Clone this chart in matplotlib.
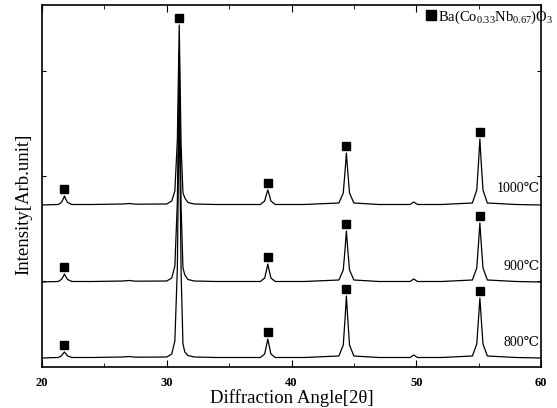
import numpy as np
import matplotlib
matplotlib.use("Agg")
import matplotlib.pyplot as plt

# --- data (intensity in arbitrary units, relative to each baseline) ---
angles = [20.0, 21.3, 21.55, 21.7, 21.8, 21.9, 22.05, 22.4, 24.0, 26.5, 27.0, 27.5,
          30.0, 30.4, 30.65, 30.85, 31.0, 31.15, 31.3, 31.45, 31.7, 32.2, 34.0,
          37.5, 37.85, 38.0, 38.1, 38.2, 38.35, 38.7, 41.0,
          43.8, 44.15, 44.3, 44.4, 44.5, 44.65, 45.0, 47.0,
          49.5, 49.8, 50.1, 52.0,
          54.5, 54.85, 55.0, 55.1, 55.2, 55.35, 55.7, 58.0, 60.0]

int_1000 = [0, 0.5, 2.5, 6, 9, 6, 2.5, 0.5, 0.5, 1, 1.5, 0.8,
            1, 4, 14, 65, 180, 60, 12, 7, 2.5, 1, 0.5,
            0.5, 4, 11, 15, 11, 4, 0.5, 0.5,
            2, 12, 35, 52, 35, 12, 2, 0.5,
            0.5, 3, 0.5, 0.5,
            2, 15, 44, 66, 44, 15, 2, 0.5, 0]

int_900 = [0, 0.5, 2.5, 5.5, 8, 5.5, 2.5, 0.5, 0.5, 1, 1.5, 0.8,
           1, 4, 16, 80, 230, 75, 14, 7, 2.5, 1, 0.5,
           0.5, 4, 12, 18, 12, 4, 0.5, 0.5,
           2, 12, 34, 51, 34, 12, 2, 0.5,
           0.5, 3, 0.5, 0.5,
           2, 14, 40, 59, 40, 14, 2, 0.5, 0]

int_800 = [0, 0.5, 2, 4.5, 6, 4.5, 2, 0.5, 0.5, 1, 1.5, 0.8,
           1, 4, 17, 90, 260, 85, 14, 6, 2.5, 1, 0.5,
           0.5, 4, 13, 19, 13, 4, 0.5, 0.5,
           2, 13, 41, 62, 41, 13, 2, 0.5,
           0.5, 3, 0.5, 0.5,
           2, 14, 41, 60, 41, 14, 2, 0.5, 0]

temps = ["1000℃", "900℃", "800℃"]
offsets = [162, 85, 9]
series = [int_1000, int_900, int_800]

# peaks marked with a square in each pattern
marked_1000 = [21.8, 31.0, 38.1, 44.4, 55.1]
marked_900 = [21.8, 38.1, 44.4, 55.1]
marked_800 = [21.8, 38.1, 44.4, 55.1]
marked = [marked_1000, marked_900, marked_800]

plt.rcParams['font.family'] = ['Liberation Serif', 'DejaVu Serif']
plt.rcParams['mathtext.fontset'] = 'custom'
plt.rcParams['mathtext.rm'] = 'Liberation Serif'
plt.rcParams['mathtext.default'] = 'regular'

fig = plt.figure(figsize=(5.57, 4.08), dpi=100)
ax = fig.add_axes([42 / 557, 41 / 408, 499 / 557, 362 / 408])

x = np.array(angles)
for k, (vals, off, temp, pk) in enumerate(zip(series, offsets, temps, marked)):
    y = np.array(vals) + off
    ax.plot(x, y, color='black', lw=0.9)
    pk_y = [np.interp(p, x, y) + 7 for p in pk]
    ax.plot(pk, pk_y, ls='none', marker='s', ms=6, color='black',
            label=r'Ba(Co$_{0.33}$Nb$_{0.67}$)O$_3$' if k == 0 else None)
    ax.text(59.9, off + 16, temp, ha='right', va='center', fontsize=10)

ax.set_xlim(20, 60)
ax.set_ylim(0, 362)
ax.set_xticks([20, 30, 40, 50, 60])
ax.set_xticks([25, 35, 45, 55], minor=True)
ax.set_yticks([86, 191, 296])
ax.set_yticklabels([])
ax.tick_params(axis='both', which='both', direction='in', right=True, top=True)
ax.tick_params(axis='x', which='major', length=5, labelsize=9, pad=7)
ax.tick_params(axis='x', which='minor', length=3)
ax.tick_params(axis='y', length=3)
for lab in ax.get_xticklabels():
    lab.set_fontweight('bold')
for sp in ax.spines.values():
    sp.set_linewidth(1.2)

ax.set_xlabel('Diffraction Angle[2θ]', fontsize=13.5, labelpad=0)
ax.set_ylabel('Intensity[Arb.unit]', fontsize=13.5)
ax.yaxis.set_label_coords(-0.02, 0.45)

ax.legend(loc='upper right', bbox_to_anchor=(1.042, 1.015), frameon=False,
          fontsize=10.5, handlelength=0.6, handletextpad=0.2, borderaxespad=0.2,
          markerscale=1.1)

fig.savefig('out.png', dpi=100)
